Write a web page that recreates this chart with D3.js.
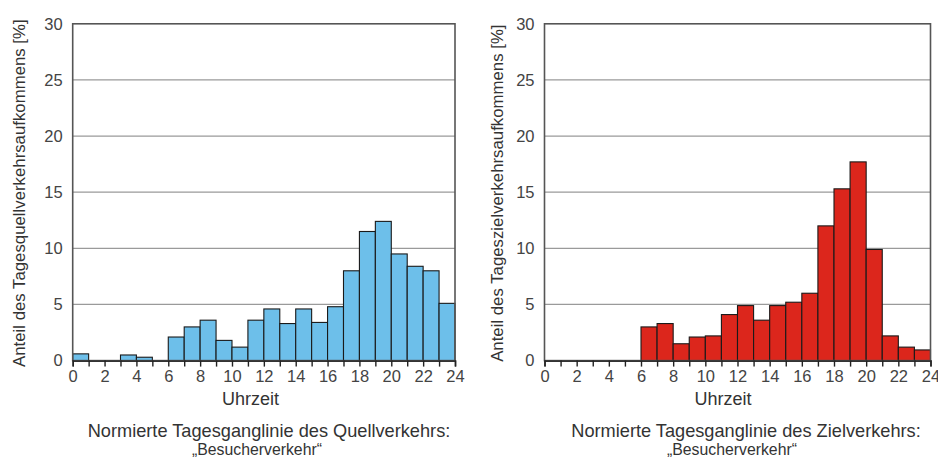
<!DOCTYPE html>
<html><head><meta charset="utf-8">
<script src="https://cdn.jsdelivr.net/npm/d3@7"></script>
<style>body{margin:0;background:#fff}svg{display:block}</style>
</head><body>
<svg id="c" width="938" height="459"></svg>
<script>
const hours = d3.range(0, 24);
const quellValues = [0.6,0,0,0.5,0.3,0,2.1,3.0,3.6,1.8,1.2,3.6,4.6,3.3,4.6,3.4,4.8,8.0,11.5,12.4,9.5,8.4,8.0,5.1];
const zielValues  = [0,0,0,0,0,0,3.0,3.3,1.5,2.1,2.2,4.1,4.9,3.6,4.9,5.2,6.0,12.0,15.3,17.7,9.9,2.2,1.2,0.95];
const xTickLabels = [0,2,4,6,8,10,12,14,16,18,20,22,24];
const yTickLabels = [0,5,10,15,20,25,30];
const yTitles = ["Anteil des Tagesquellverkehrsaufkommens [%]","Anteil des Tageszielverkehrsaufkommens [%]"];
const captions = [["Normierte Tagesganglinie des Quellverkehrs:","„Besucherverkehr“"],["Normierte Tagesganglinie des Zielverkehrs:","„Besucherverkehr“"]];
const colors = ["#6dbfea","#dc261c"];

const svg = d3.select("#c");
const font = "Liberation Sans, Arial, sans-serif";
const panels = [
  {x0:72.7, x1:455, vals:quellValues, titleX:21, uhrX:250.5, capX:[269,257]},
  {x0:544.5, x1:930.5, vals:zielValues, titleX:499, uhrX:723, capX:[746,732]}
];
const yTop = 23.8, yBot = 360.6;

panels.forEach((p, i) => {
  const x = d3.scaleLinear().domain([0,24]).range([p.x0, p.x1]);
  const y = d3.scaleLinear().domain([0,30]).range([yBot, yTop]);
  const g = svg.append("g");
  g.selectAll(".grid").data(yTickLabels.filter(v => v>0 && v<30)).enter().append("line")
    .attr("x1", p.x0).attr("x2", p.x1).attr("y1", d=>y(d)).attr("y2", d=>y(d))
    .attr("stroke", "#9a9a9a").attr("stroke-width", 1.2);
  g.selectAll(".bar").data(hours.filter(h => p.vals[h] > 0)).enter().append("rect")
    .attr("x", h => x(h)).attr("width", h => x(h+1)-x(h))
    .attr("y", h => y(p.vals[h])).attr("height", h => y(0)-y(p.vals[h]))
    .attr("fill", colors[i]).attr("stroke", "#1a1a1a").attr("stroke-width", 1.1);
  g.append("rect").attr("x", p.x0).attr("y", yTop).attr("width", p.x1-p.x0).attr("height", yBot-yTop)
    .attr("fill", "none").attr("stroke", "#555").attr("stroke-width", 1.6);
  const xa = d3.axisBottom(x).tickValues(d3.range(0,25)).tickSize(6)
    .tickFormat(d => xTickLabels.includes(d) ? String(d) : "");
  const ax = g.append("g").attr("transform", `translate(0,${yBot})`).call(xa);
  ax.select(".domain").attr("stroke", "#333").attr("stroke-width", 1.6);
  ax.selectAll(".tick line").attr("stroke", "#222").attr("stroke-width", 1.4);
  ax.selectAll(".tick text").attr("font-family", font).attr("font-size", 16.5).attr("fill", "#444").attr("dy", "0.9em").attr("y", 7);
  const ya = d3.axisLeft(y).tickValues(yTickLabels).tickSize(0).tickPadding(10);
  const ay = g.append("g").attr("transform", `translate(${p.x0},0)`).call(ya);
  ay.select(".domain").remove();
  ay.selectAll(".tick text").attr("font-family", font).attr("font-size", 16.5).attr("fill", "#444");
  g.append("text").attr("transform", `translate(${p.titleX},${(yTop+yBot)/2+1}) rotate(-90)`)
    .attr("text-anchor", "middle").attr("dominant-baseline", "middle")
    .attr("font-family", font).attr("font-size", 16.8).attr("fill", "#333").text(yTitles[i]);
  g.append("text").attr("x", p.uhrX).attr("y", 400).attr("text-anchor", "middle").attr("dominant-baseline", "middle")
    .attr("font-family", font).attr("font-size", 18).attr("fill", "#333").text("Uhrzeit");
  captions[i].forEach((t, k) => {
    g.append("text").attr("x", p.capX[k]).attr("y", 432 + k*19).attr("text-anchor", "middle").attr("dominant-baseline", "middle")
      .attr("font-family", font).attr("font-size", k === 0 ? 18.2 : 15.8).attr("fill", "#333").text(t);
  });
});
</script>
</body></html>
